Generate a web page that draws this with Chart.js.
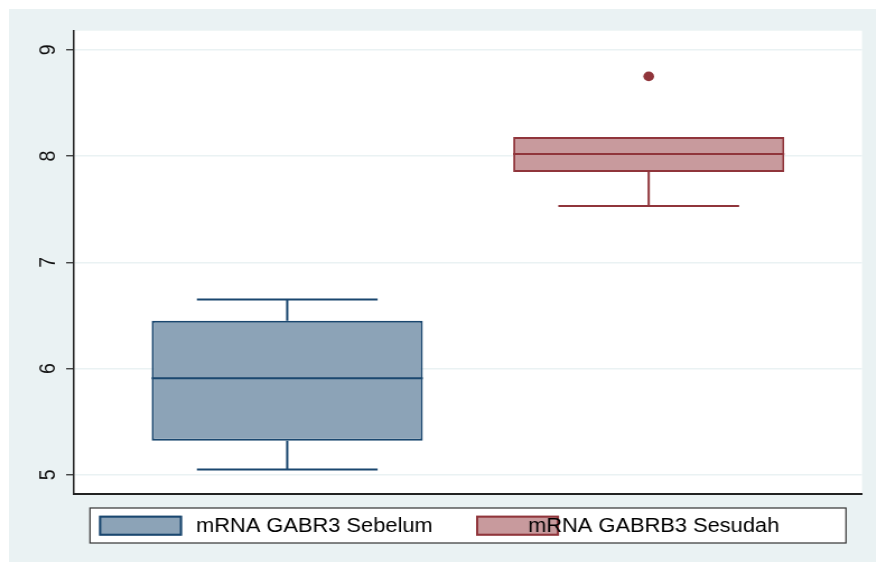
<!DOCTYPE html>
<html>
<head>
<meta charset="utf-8">
<script src="https://cdn.jsdelivr.net/npm/chart.js@4"></script>
<style>
  html, body { margin: 0; padding: 0; background: #ffffff; }
  #frame { position: absolute; left: 9px; top: 9px; width: 867px; height: 553px; background: #EAF2F3; overflow: hidden; }
  #chart { position: absolute; left: 0; top: 0; transform: scaleX(1.12); transform-origin: 0 0; }
</style>
</head>
<body>
<div id="frame"><canvas id="chart" width="774" height="553"></canvas></div>
<script>
// Box plot summary for each variable
const groups = ['mRNA GABR3 Sebelum', 'mRNA GABRB3 Sesudah'];
const positions = [1, 2];
const lowerAdjacent = [5.05, 7.53];
const lowerQuartile = [5.32, 7.85];
const medians = [5.91, 8.02];
const upperQuartile = [6.45, 8.18];
const upperAdjacent = [6.65, 8.18];
const outliers = [[], [8.75]];
const yTicks = [5, 6, 7, 8, 9];

const lineColors = ['#1A476F', '#90353B'];
const fillColors = ['#8CA3B7', '#C89A9D'];

Chart.defaults.font.family = "'Liberation Sans', Arial, Helvetica, sans-serif";
Chart.defaults.color = '#111111';

// White plot region inside the tinted page
const plotBackground = {
  id: 'plotBackground',
  beforeDraw(chart) {
    const { ctx, chartArea: a } = chart;
    ctx.save();
    ctx.fillStyle = '#ffffff';
    ctx.fillRect(a.left, a.top, a.right - a.left, a.bottom - a.top);
    ctx.restore();
  }
};

// Median line, whiskers and caps on top of each box
const boxDetails = {
  id: 'boxDetails',
  afterDatasetsDraw(chart) {
    const ctx = chart.ctx;
    const y = chart.scales.y;
    const py = v => y.getPixelForValue(v);
    groups.forEach((g, i) => {
      const bar = chart.getDatasetMeta(i).data[0];
      const { x, width } = bar.getProps(['x', 'width'], true);
      const half = width / 2;
      const cap = width / 3;
      ctx.save();
      ctx.strokeStyle = lineColors[i];
      ctx.lineWidth = 2;
      ctx.beginPath();
      ctx.moveTo(x - half, py(medians[i]));
      ctx.lineTo(x + half, py(medians[i]));
      if (upperAdjacent[i] > upperQuartile[i]) {
        ctx.moveTo(x, py(upperQuartile[i]));
        ctx.lineTo(x, py(upperAdjacent[i]));
        ctx.moveTo(x - cap, py(upperAdjacent[i]));
        ctx.lineTo(x + cap, py(upperAdjacent[i]));
      }
      if (lowerAdjacent[i] < lowerQuartile[i]) {
        ctx.moveTo(x, py(lowerQuartile[i]));
        ctx.lineTo(x, py(lowerAdjacent[i]));
        ctx.moveTo(x - cap, py(lowerAdjacent[i]));
        ctx.lineTo(x + cap, py(lowerAdjacent[i]));
      }
      ctx.stroke();
      ctx.restore();
    });
  }
};

// Framed legend below the plot
const framedLegend = {
  id: 'framedLegend',
  afterDraw(chart) {
    const { ctx, chartArea: a } = chart;
    const left = a.left + 14.3;
    const right = a.right - 14.3;
    const top = a.bottom + 14;
    const h = 35;
    ctx.save();
    ctx.fillStyle = '#ffffff';
    ctx.fillRect(left, top, right - left, h);
    ctx.strokeStyle = '#333333';
    ctx.lineWidth = 1.2;
    ctx.strokeRect(left, top, right - left, h);
    const swatchX = [8.1, 344.7];
    const textX = [94.7, 391.1];
    const swW = 74.1, swH = 20, swTop = top + 7.7;
    ctx.font = "19.5px 'Liberation Sans', Arial, sans-serif";
    ctx.textBaseline = 'alphabetic';
    ctx.textAlign = 'left';
    groups.forEach((g, i) => {
      const ds = chart.data.datasets[i];
      ctx.fillStyle = ds.backgroundColor;
      ctx.fillRect(left + swatchX[i], swTop, swW, swH);
      ctx.strokeStyle = ds.borderColor;
      ctx.lineWidth = 2;
      ctx.strokeRect(left + swatchX[i] + 1, swTop + 1, swW - 2, swH - 2);
      ctx.fillStyle = '#000000';
      ctx.fillText(ds.label, left + textX[i], top + 24.3);
    });
    ctx.restore();
  }
};

const boxDatasets = groups.map((g, i) => ({
  type: 'bar',
  label: g,
  data: [{ x: positions[i], y: [lowerQuartile[i], upperQuartile[i]] }],
  backgroundColor: fillColors[i],
  borderColor: lineColors[i],
  borderWidth: 2,
  borderSkipped: false,
  grouped: false,
  barPercentage: 0.75,
  categoryPercentage: 1,
  order: 2
}));

const outlierPoints = [];
const outlierColors = [];
outliers.forEach((list, i) => list.forEach(v => {
  outlierPoints.push({ x: positions[i], y: v });
  outlierColors.push(lineColors[i]);
}));

new Chart(document.getElementById('chart'), {
  type: 'bar',
  data: {
    datasets: [
      ...boxDatasets,
      {
        type: 'scatter',
        label: 'outside values',
        data: outlierPoints,
        pointRadius: 4.8,
        pointBackgroundColor: outlierColors,
        pointBorderColor: outlierColors,
        pointBorderWidth: 0,
        order: 1
      }
    ]
  },
  options: {
    responsive: false,
    animation: false,
    layout: { padding: { left: 0, right: 12.4, top: 20.3, bottom: 68 } },
    plugins: {
      legend: { display: false },
      tooltip: { enabled: false }
    },
    scales: {
      x: {
        type: 'linear',
        offset: false,
        bounds: 'data',
        min: 0.41,
        max: 2.59,
        afterBuildTicks: s => { s.ticks = positions.map(v => ({ value: v })); },
        afterFit: s => { s.height = 0; },
        ticks: { display: false },
        grid: { display: true, offset: false, drawOnChartArea: false, drawTicks: false },
        border: { color: '#222222', width: 2 }
      },
      y: {
        type: 'linear',
        min: 4.82,
        max: 9.18,
        afterBuildTicks: s => { s.ticks = yTicks.map(v => ({ value: v })); },
        afterFit: s => { s.width = 58; },
        grid: { color: '#EAF2F3', lineWidth: 1.5, tickColor: '#333333', tickLength: 7, tickWidth: 1.3 },
        border: { color: '#222222', width: 1.5 },
        ticks: {
          minRotation: 90,
          maxRotation: 90,
          crossAlign: 'center',
          padding: 10,
          color: '#111111',
          font: { size: 19.5 },
          callback: v => String(v)
        }
      }
    }
  },
  plugins: [plotBackground, boxDetails, framedLegend]
});
</script>
</body>
</html>
